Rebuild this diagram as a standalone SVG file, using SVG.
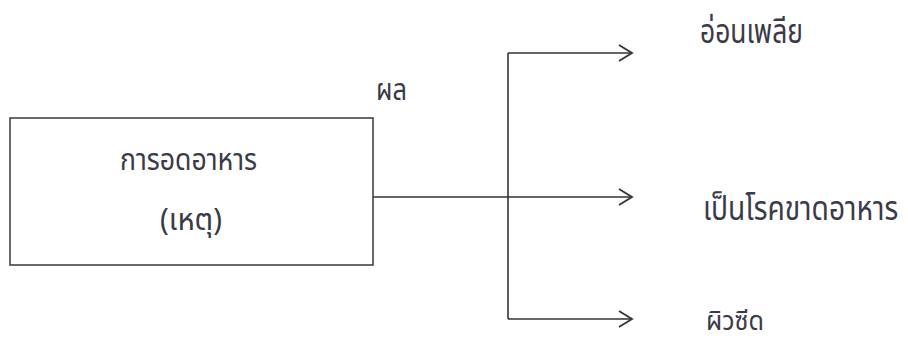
<svg xmlns="http://www.w3.org/2000/svg" width="908" height="342" viewBox="0 0 908 342">
<style>
.t{font-family:"Noto Sans Thai","Noto Sans","DejaVu Sans",sans-serif;fill:#3a3a48;font-size:30px}
.b{font-size:34px}
.s{font-size:27px}
.c{fill:none;stroke:#333;stroke-width:1.6}
</style>
<defs>
<marker id="a" markerWidth="16" markerHeight="20" refX="14" refY="10" orient="auto" markerUnits="userSpaceOnUse">
<path d="M1,2 L14,10 L1,18" fill="none" stroke="#333" stroke-width="1.8"/>
</marker>
</defs>
<rect width="908" height="342" fill="#fff"/>
<g id="connectors">
<line class="c" x1="373" y1="197" x2="632" y2="197" marker-end="url(#a)"/>
<line class="c" x1="508" y1="53" x2="508" y2="319"/>
<line class="c" x1="508" y1="53" x2="632" y2="53" marker-end="url(#a)"/>
<line class="c" x1="508" y1="319" x2="632" y2="319" marker-end="url(#a)"/>
</g>
<g id="cause">
<rect x="10" y="118" width="363" height="147" fill="none" stroke="#444" stroke-width="1.6"/>
<text class="t" x="120" y="170" textLength="137" lengthAdjust="spacingAndGlyphs">การอดอาหาร</text>
<text class="t" x="160" y="230" textLength="62" lengthAdjust="spacingAndGlyphs">(เหตุ)</text>
</g>
<g id="label-effect">
<text class="t" x="376" y="100" textLength="31" lengthAdjust="spacingAndGlyphs">ผล</text>
</g>
<g id="effect1">
<text class="t b" x="700" y="43" textLength="103" lengthAdjust="spacingAndGlyphs">อ่อนเพลีย</text>
</g>
<g id="effect2">
<text class="t b" transform="translate(703 220) scale(0.8 1)" x="0" y="0" textLength="244" lengthAdjust="spacingAndGlyphs">เป็นโรคขาดอาหาร</text>
</g>
<g id="effect3">
<text class="t s" x="706" y="330" textLength="58" lengthAdjust="spacingAndGlyphs">ผิวซีด</text>
</g>
</svg>
